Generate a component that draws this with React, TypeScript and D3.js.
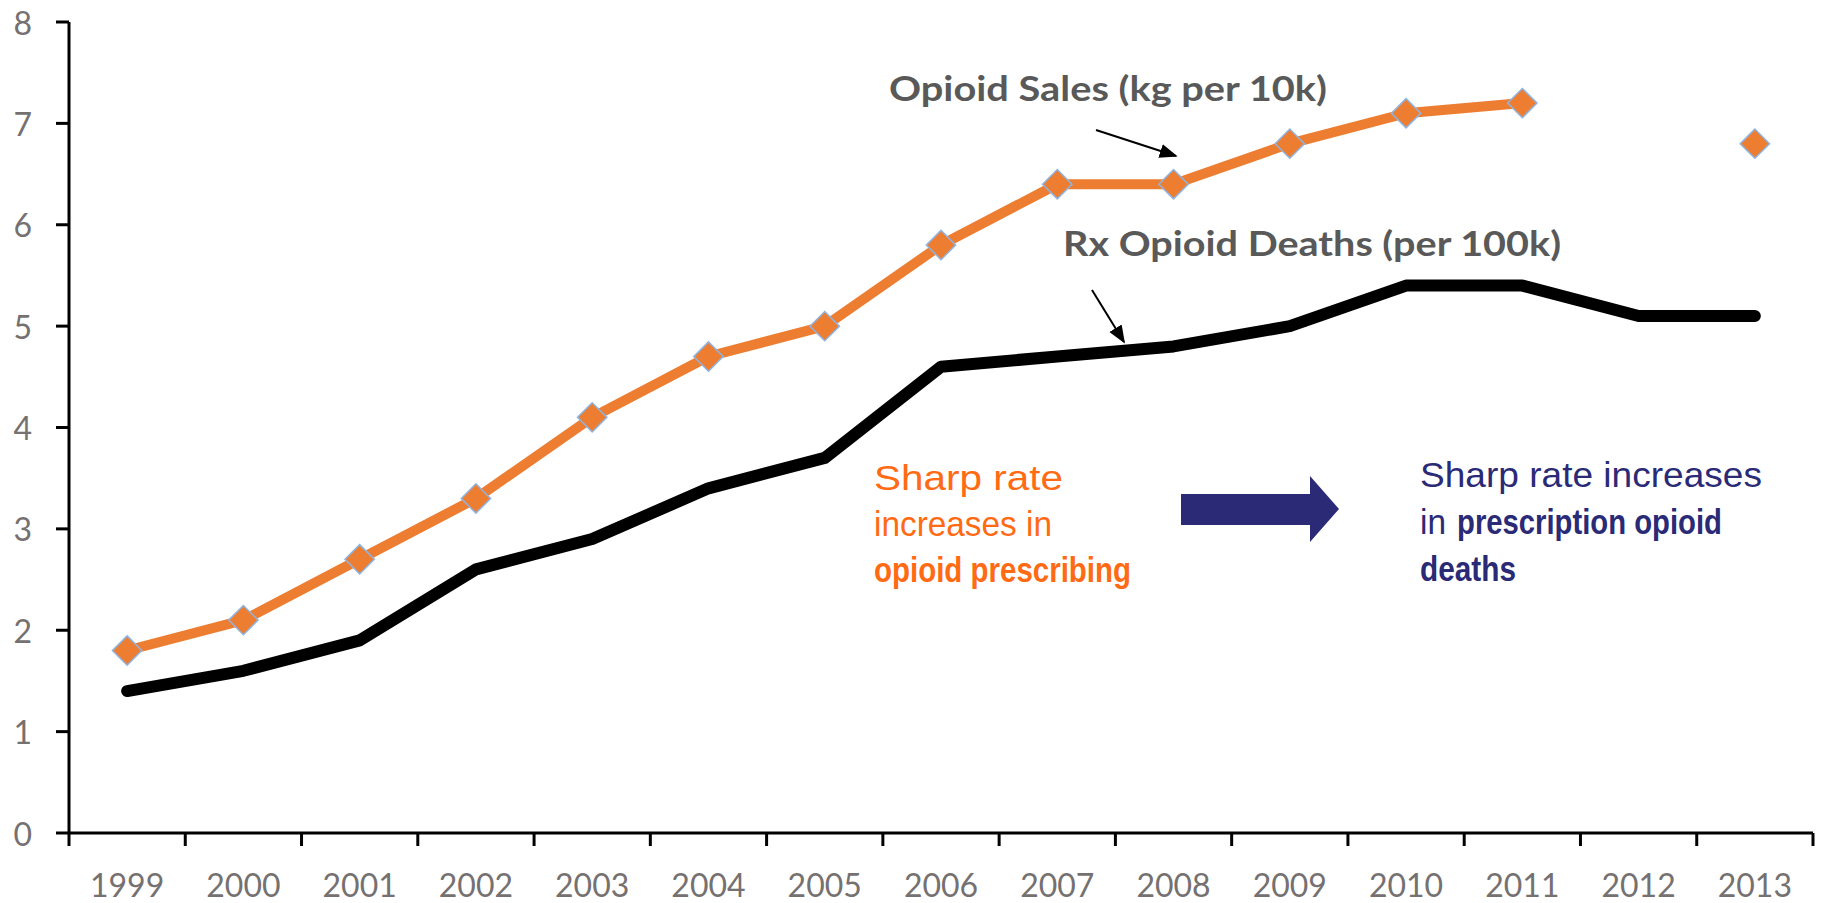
import { useEffect } from 'react';
import * as d3 from 'd3';

const YEARS = ['1999', '2000', '2001', '2002', '2003', '2004', '2005', '2006', '2007', '2008', '2009', '2010', '2011', '2012', '2013'];
const SALES: Array<number | null> = [1.8, 2.1, 2.7, 3.3, 4.1, 4.7, 5.0, 5.8, 6.4, 6.4, 6.8, 7.1, 7.2, null, 6.8];
const DEATHS: Array<number | null> = [1.4, 1.6, 1.9, 2.6, 2.9, 3.4, 3.7, 4.6, 4.7, 4.8, 5.0, 5.4, 5.4, 5.1, 5.1];
const Y_TICKS = [0, 1, 2, 3, 4, 5, 6, 7, 8];

const W = 1822;
const H = 903;
const PLOT = { left: 69, right: 1813, top: 22, bottom: 833 };

const ORANGE = '#ED7D31';
const MARKER_EDGE = '#8EB4E3';
const TICK_GRAY = '#767171';
const LABEL_GRAY = '#595959';
const NOTE_ORANGE = '#FF6A13';
const NAVY = '#2A2A77';
const FONT = 'Lato, "Open Sans", sans-serif';
const ARIAL = '"Liberation Sans", Arial, sans-serif';

export default function App() {
  useEffect(() => {
    document.body.style.margin = '0';
  }, []);

  const x = d3.scaleBand<string>().domain(YEARS).range([PLOT.left, PLOT.right]);
  const y = d3.scaleLinear().domain([0, 8]).range([PLOT.bottom, PLOT.top]);
  const cx = (i: number) => (x(YEARS[i]) ?? 0) + x.bandwidth() / 2;

  const line = d3
    .line<number | null>()
    .defined((d) => d != null)
    .x((_, i) => cx(i))
    .y((d) => y(d as number));

  const diamond = d3.symbol().type(d3.symbolSquare).size(430)();
  const xTicks = [...YEARS.map((yr) => x(yr) ?? 0), PLOT.right];

  return (
    <svg width={W} height={H} viewBox={`0 0 ${W} ${H}`} style={{ display: 'block', background: '#fff' }}>
      <defs>
        <marker id="thin-arrow" viewBox="0 0 10 10" refX="9" refY="5" markerWidth="9" markerHeight="9" orient="auto">
          <path d="M0,1 L10,5 L0,9 Z" fill="#000" />
        </marker>
      </defs>

      {/* axes */}
      <line x1={PLOT.left} x2={PLOT.left} y1={PLOT.top} y2={PLOT.bottom} stroke="#000" strokeWidth={3} />
      <line x1={PLOT.left} x2={PLOT.right} y1={PLOT.bottom} y2={PLOT.bottom} stroke="#000" strokeWidth={3} />
      {Y_TICKS.map((t) => (
        <g key={t}>
          <line x1={PLOT.left - 13} x2={PLOT.left} y1={y(t)} y2={y(t)} stroke="#000" strokeWidth={3} />
          <text x={32} y={y(t)} textAnchor="end" dominantBaseline="central" fill={TICK_GRAY} fontFamily={FONT} fontSize={32}>
            {t}
          </text>
        </g>
      ))}
      {xTicks.map((tx, i) => (
        <line key={i} x1={tx} x2={tx} y1={PLOT.bottom} y2={PLOT.bottom + 13} stroke="#000" strokeWidth={3} />
      ))}
      {YEARS.map((yr, i) => (
        <text key={yr} x={cx(i)} y={884} textAnchor="middle" dominantBaseline="central" fill={TICK_GRAY} fontFamily={FONT} fontSize={32}>
          {yr}
        </text>
      ))}

      {/* series */}
      <path d={line(DEATHS) ?? ''} fill="none" stroke="#000" strokeWidth={12} strokeLinecap="round" strokeLinejoin="round" />
      <path d={line(SALES) ?? ''} fill="none" stroke={ORANGE} strokeWidth={10} strokeLinejoin="round" />
      {SALES.map((v, i) =>
        v == null ? null : (
          <path
            key={i}
            d={diamond ?? ''}
            transform={`translate(${cx(i)},${y(v)}) rotate(45)`}
            fill={ORANGE}
            stroke={MARKER_EDGE}
            strokeWidth={1.5}
          />
        ),
      )}

      {/* series labels */}
      <text x={889} y={87} dominantBaseline="central" fill={LABEL_GRAY} fontFamily={FONT} fontWeight={700} fontSize={34} textLength={438} lengthAdjust="spacingAndGlyphs">
        Opioid Sales (kg per 10k)
      </text>
      <line x1={1096} y1={130} x2={1176} y2={156} stroke="#000" strokeWidth={2} markerEnd="url(#thin-arrow)" />
      <text x={1063} y={242} dominantBaseline="central" fill={LABEL_GRAY} fontFamily={FONT} fontWeight={700} fontSize={34} textLength={498} lengthAdjust="spacingAndGlyphs">
        Rx Opioid Deaths (per 100k)
      </text>
      <line x1={1092} y1={290} x2={1124} y2={342} stroke="#000" strokeWidth={2} markerEnd="url(#thin-arrow)" />

      {/* annotation: prescribing */}
      <g fontFamily={ARIAL} fill={NOTE_ORANGE}>
        <text x={874} y={477} dominantBaseline="central" fontSize={35} textLength={189} lengthAdjust="spacingAndGlyphs">
          Sharp rate
        </text>
        <text x={874} y={523} dominantBaseline="central" fontSize={35} textLength={178} lengthAdjust="spacingAndGlyphs">
          increases in
        </text>
        <text x={874} y={569} dominantBaseline="central" fontSize={35} fontWeight={700} textLength={257} lengthAdjust="spacingAndGlyphs">
          opioid prescribing
        </text>
      </g>

      {/* big arrow */}
      <path d="M1181,494 L1310,494 L1310,476 L1339,509 L1310,542 L1310,525 L1181,525 Z" fill={NAVY} />

      {/* annotation: deaths */}
      <g fontFamily={ARIAL} fill={NAVY}>
        <text x={1420} y={474} dominantBaseline="central" fontSize={35} textLength={342} lengthAdjust="spacingAndGlyphs">
          Sharp rate increases
        </text>
        <text x={1420} y={521} dominantBaseline="central" fontSize={35} textLength={26} lengthAdjust="spacingAndGlyphs">
          in
        </text>
        <text x={1457} y={521} dominantBaseline="central" fontSize={35} fontWeight={700} textLength={265} lengthAdjust="spacingAndGlyphs">
          prescription opioid
        </text>
        <text x={1420} y={568} dominantBaseline="central" fontSize={35} fontWeight={700} textLength={96} lengthAdjust="spacingAndGlyphs">
          deaths
        </text>
      </g>
    </svg>
  );
}
